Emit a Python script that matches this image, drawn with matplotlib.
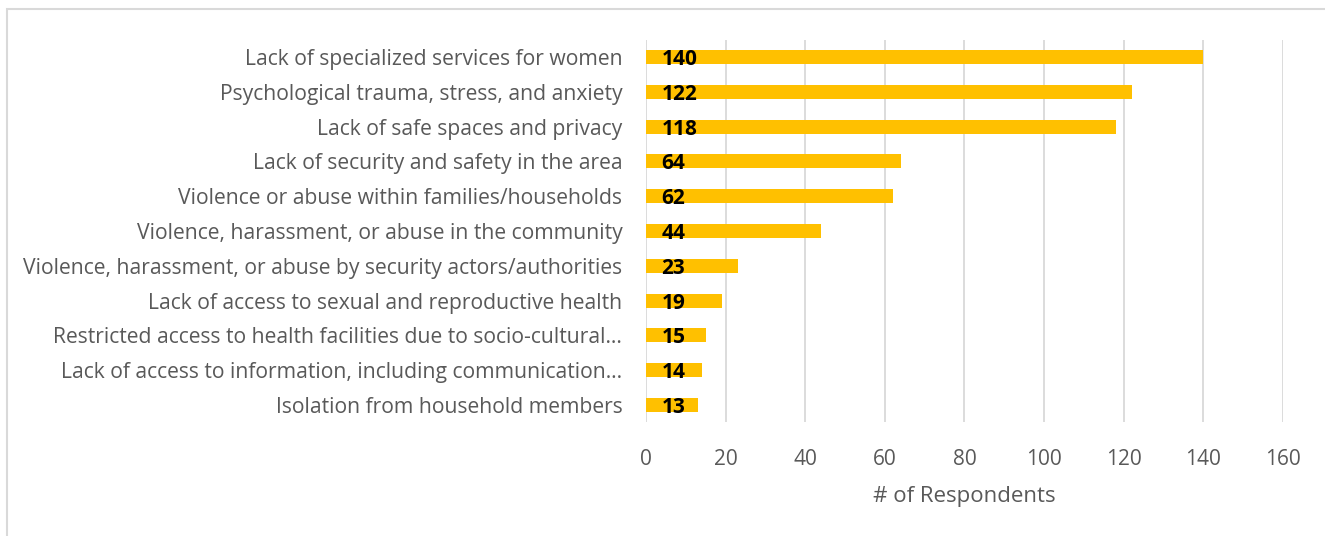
import matplotlib.pyplot as plt
from matplotlib.patches import Rectangle

categories = [
    "Lack of specialized services for women",
    "Psychological trauma, stress, and anxiety",
    "Lack of safe spaces and privacy",
    "Lack of security and safety in the area",
    "Violence or abuse within families/households",
    "Violence, harassment, or abuse in the community",
    "Violence, harassment, or abuse by security actors/authorities",
    "Lack of access to sexual and reproductive health",
    "Restricted access to health facilities due to socio-cultural\u2026",
    "Lack of access to information, including communication\u2026",
    "Isolation from household members",
]
counts = [140, 122, 118, 64, 62, 44, 23, 19, 15, 14, 13]
xticks = [0, 20, 40, 60, 80, 100, 120, 140, 160]

plt.rcParams['font.family'] = ['Open Sans', 'DejaVu Sans']

fig = plt.figure(figsize=(13.25, 5.36), dpi=100)
ax = fig.add_axes([0.4875, 0.212, 0.4808, 0.714])

ypos = list(range(len(categories)))
ax.barh(ypos, counts, height=0.4, color="#FFC000", zorder=2)
for y, v in zip(ypos, counts):
    ax.text(3.9, y + 0.07, str(v), ha="left", va="center",
            fontsize=15, fontweight="bold", color="black", zorder=3)

ax.set_ylim(len(categories) - 0.5, -0.5)
ax.set_xlim(0, 160)
ax.set_yticks(ypos)
ax.set_yticklabels(categories, fontsize=15.2, color="#595959")
ax.set_xticks(xticks)
ax.set_xticklabels([str(t) for t in xticks], fontsize=15, color="#595959")
ax.tick_params(length=0)
ax.tick_params(axis="y", pad=17)
ax.tick_params(axis="x", pad=19)
ax.grid(axis="x", color="#D9D9D9", linewidth=1.3, zorder=0)
for s in ax.spines.values():
    s.set_visible(False)
ax.set_xlabel("# of Respondents", fontsize=16, color="#595959", labelpad=12)

# light frame around the chart area
fig.patches.append(Rectangle((7 / 1325, -0.1), 1.2, 1 - 9 / 536 + 0.1,
                             transform=fig.transFigure, fill=False,
                             edgecolor="#D9D9D9", linewidth=1.5))

fig.savefig("out.png", dpi=100)
